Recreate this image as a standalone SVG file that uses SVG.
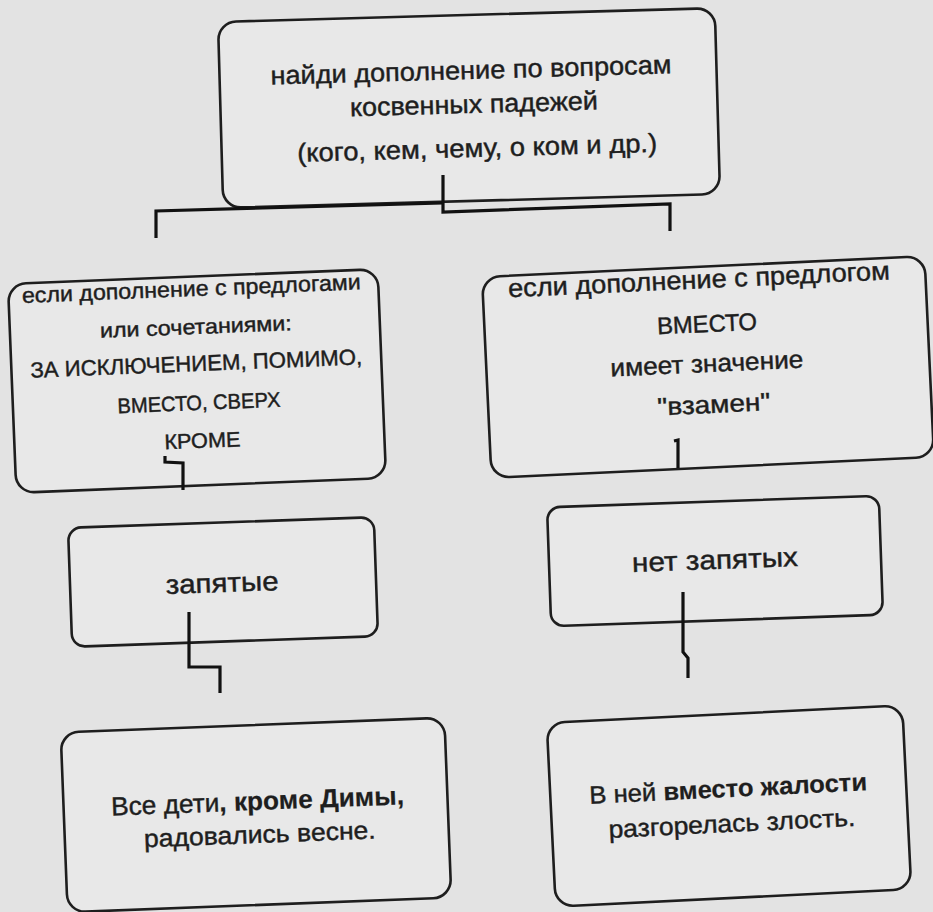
<svg xmlns="http://www.w3.org/2000/svg" width="933" height="912" viewBox="0 0 933 912">
<style>
.box{fill:#e8e8e8;stroke:#1e1e1e;stroke-width:2.6}
.t{font-family:"Liberation Sans","Noto Sans",Arial,sans-serif;fill:#1e1e1e;stroke:#1e1e1e;stroke-width:0.45;text-anchor:middle}
.b{font-weight:bold;stroke-width:0.2}
.con{fill:none;stroke:#111;stroke-width:3.2;stroke-linejoin:miter}
</style>
<rect x="0" y="0" width="933" height="912" fill="#e3e3e3"/>
<g id="top" transform="rotate(-1.6 469 108)">
<rect class="box" x="220.5" y="15" width="497" height="186" rx="18"/>
<text class="t" x="472" y="79" font-size="26" textLength="401" lengthAdjust="spacingAndGlyphs">найди дополнение по вопросам</text>
<text class="t" x="474" y="113" font-size="26" textLength="248" lengthAdjust="spacingAndGlyphs">косвенных падежей</text>
<text class="t" x="476" y="157" font-size="26" textLength="360" lengthAdjust="spacingAndGlyphs">(кого, кем, чему, о ком и др.)</text>
</g>
<g id="left-cond" transform="rotate(-2.3 197 381)">
<rect class="box" x="12" y="276.5" width="370" height="209" rx="18"/>
<text class="t" x="195" y="296" font-size="22" textLength="339" lengthAdjust="spacingAndGlyphs">если дополнение с предлогами</text>
<text class="t" x="198" y="334" font-size="21" textLength="192" lengthAdjust="spacingAndGlyphs">или сочетаниями:</text>
<text class="t" x="197" y="371" font-size="22" textLength="332" lengthAdjust="spacingAndGlyphs">ЗА ИСКЛЮЧЕНИЕМ, ПОМИМО,</text>
<text class="t" x="198" y="410" font-size="21" textLength="163" lengthAdjust="spacingAndGlyphs">ВМЕСТО, СВЕРХ</text>
<text class="t" x="200" y="448" font-size="21" textLength="76" lengthAdjust="spacingAndGlyphs">КРОМЕ</text>
</g>
<g id="right-cond" transform="rotate(-2.7 708 367)">
<rect class="box" x="486.5" y="266.5" width="443" height="201" rx="18"/>
<text class="t" x="703" y="288" font-size="26" textLength="382" lengthAdjust="spacingAndGlyphs">если дополнение с предлогом</text>
<text class="t" x="709" y="332" font-size="24" textLength="100" lengthAdjust="spacingAndGlyphs">ВМЕСТО</text>
<text class="t" x="707" y="372" font-size="25" textLength="193" lengthAdjust="spacingAndGlyphs">имеет значение</text>
<text class="t" x="712" y="413" font-size="25" textLength="113" lengthAdjust="spacingAndGlyphs">"взамен"</text>
</g>
<g id="commas" transform="rotate(-2 223 582)">
<rect class="box" x="70" y="522.5" width="306" height="119" rx="13"/>
<text class="t" x="222" y="592" font-size="27" textLength="113" lengthAdjust="spacingAndGlyphs">запятые</text>
</g>
<g id="no-commas" transform="rotate(-2 715 561)">
<rect class="box" x="549" y="501.5" width="332" height="119" rx="13"/>
<text class="t" x="715" y="569" font-size="27" textLength="166" lengthAdjust="spacingAndGlyphs">нет запятых</text>
</g>
<g id="example-left" transform="rotate(-2.2 256 815)">
<rect class="box" x="64" y="725" width="384" height="180" rx="18"/>
<text class="t" x="258" y="810" font-size="26" textLength="293" lengthAdjust="spacingAndGlyphs">Все дети<tspan class="b">, кроме Димы,</tspan></text>
<text class="t" x="259" y="843" font-size="25" textLength="232" lengthAdjust="spacingAndGlyphs">радовались весне.</text>
</g>
<g id="example-right" transform="rotate(-2.8 729 806)">
<rect class="box" x="551" y="714" width="356" height="184" rx="18"/>
<text class="t" x="729" y="797" font-size="25" textLength="278" lengthAdjust="spacingAndGlyphs">В ней <tspan class="b">вместо жалости</tspan></text>
<text class="t" x="731" y="832" font-size="25" textLength="247" lengthAdjust="spacingAndGlyphs">разгорелась злость.</text>
</g>
<g id="connectors">
<path class="con" d="M156,238 L156,211 L443,203"/>
<path class="con" d="M443,175 L443,212 L670,204 L670,231"/>
<path class="con" d="M165,456 L165,462 L183,463 L183,490"/>
<path class="con" d="M674,441 L678,440 L678,468"/>
<path class="con" d="M189,612 L189,667 L220,667 L220,693"/>
<path class="con" d="M683,592 L683,652 L688,658 L688,678"/>
</g>
</svg>
